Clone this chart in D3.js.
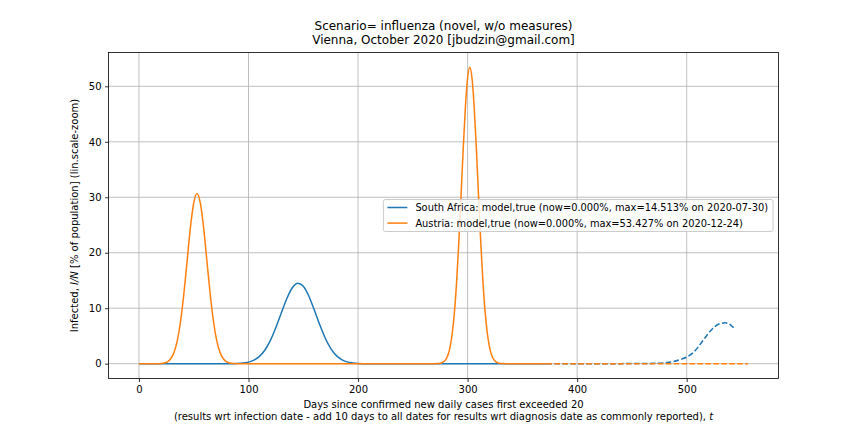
<!DOCTYPE html>
<html>
<head>
<meta charset="utf-8">
<script src="https://cdn.jsdelivr.net/npm/d3@7"></script>
<style>
  body { margin: 0; background: #fff; }
  text { font-family: "DejaVu Sans", sans-serif; fill: #000; }
</style>
</head>
<body>
<svg id="chart" width="864" height="432"></svg>
<script>
// South Africa, model (solid) and projection (dashed)
var saModelDays   = [0, 40, 60, 70, 80, 90, 95, 100, 105, 110, 115, 120, 125, 130, 135, 140, 145, 150, 155, 160, 165, 170, 175, 180, 185, 190, 195, 200, 210, 220, 372];
var saModelValues = [0, 0, 0, 0, 0.004, 0.04, 0.11, 0.28, 0.64, 1.31, 2.47, 4.20, 6.51, 9.17, 11.76, 13.69, 14.513, 13.95, 12.21, 9.71, 7.03, 4.62, 2.76, 1.50, 0.74, 0.33, 0.14, 0.05, 0.01, 0, 0];
var saProjDays    = [372, 400, 440, 460, 470, 476, 482, 488, 494, 500, 506, 512, 518, 524, 530, 535, 540, 544];
var saProjValues  = [0, 0, 0.01, 0.03, 0.06, 0.1, 0.2, 0.4, 0.75, 1.2, 2.0, 3.4, 5.0, 6.4, 7.2, 7.36, 7.0, 6.2];

// Austria, model (solid) and projection (dashed)
var atModelDays   = [0, 10, 15, 20, 23, 26, 29, 32, 35, 38, 41, 44, 47, 50, 53, 56, 59, 62, 65, 68, 71, 74, 77, 80, 83, 86, 90, 100, 260,
                     270, 272, 274, 276, 278, 280, 282, 284, 286, 288, 290, 292, 294, 296, 298, 300, 302, 304, 306, 308, 310, 312, 314, 316, 318, 320, 322, 324, 326, 328, 330, 332, 334, 340, 372];
var atModelValues = [0, 0, 0.004, 0.04, 0.12, 0.34, 0.88, 2.02, 4.15, 7.65, 12.6, 18.6, 24.6, 29.0, 30.7, 29.0, 24.6, 18.6, 12.6, 7.65, 4.15, 2.02, 0.88, 0.34, 0.12, 0.04, 0.01, 0, 0,
                     0.01, 0.02, 0.05, 0.13, 0.32, 0.72, 1.53, 3.0, 5.49, 9.35, 14.8, 21.9, 30.2, 38.8, 46.3, 51.5, 53.427, 51.5, 46.3, 38.8, 30.2, 21.9, 14.8, 9.35, 5.49, 3.0, 1.53, 0.72, 0.32, 0.13, 0.05, 0.02, 0.01, 0, 0];
var atProjDays    = [372, 556];
var atProjValues  = [0, 0];

var xTicks = [0, 100, 200, 300, 400, 500];
var yTicks = [0, 10, 20, 30, 40, 50];

var legendLabels = [
  "South Africa: model,true (now=0.000%, max=14.513% on 2020-07-30)",
  "Austria: model,true (now=0.000%, max=53.427% on 2020-12-24)"
];
var colors = ["#1f77b4", "#ff7f0e"];

var svg = d3.select("#chart"),
    width = 864,
    height = 432,
    margin = {top: 52.5, right: 85.5, bottom: 53.5, left: 108.5},
    plotW = width - margin.left - margin.right,
    plotH = height - margin.top - margin.bottom;

function zipSeries(days, vals) {
  return days.map(function(d, i) { return [d, vals[i]]; });
}

var series = [
  {pts: zipSeries(saModelDays, saModelValues), color: colors[0], dash: null},
  {pts: zipSeries(atModelDays, atModelValues), color: colors[1], dash: null},
  {pts: zipSeries(saProjDays, saProjValues), color: colors[0], dash: "5.55,2.4"},
  {pts: zipSeries(atProjDays, atProjValues), color: colors[1], dash: "5.55,2.4"}
];

var allX = [].concat(saModelDays, saProjDays, atModelDays, atProjDays),
    allY = [].concat(saModelValues, saProjValues, atModelValues, atProjValues),
    xExt = d3.extent(allX),
    yExt = d3.extent(allY),
    xPad = (xExt[1] - xExt[0]) * 0.05,
    yPad = (yExt[1] - yExt[0]) * 0.05;

var x = d3.scaleLinear().domain([xExt[0] - xPad, xExt[1] + xPad]).range([0, plotW]);
var y = d3.scaleLinear().domain([yExt[0] - yPad, yExt[1] + yPad]).range([plotH, 0]);

var g = svg.append("g").attr("transform", "translate(" + margin.left + "," + margin.top + ")");

// grid
g.append("g").selectAll("line").data(xTicks).enter().append("line")
    .attr("x1", function(d) { return x(d); }).attr("x2", function(d) { return x(d); })
    .attr("y1", 0).attr("y2", plotH)
    .attr("stroke", "#b0b0b0").attr("stroke-width", 0.8);
g.append("g").selectAll("line").data(yTicks).enter().append("line")
    .attr("y1", function(d) { return y(d); }).attr("y2", function(d) { return y(d); })
    .attr("x1", 0).attr("x2", plotW)
    .attr("stroke", "#b0b0b0").attr("stroke-width", 0.8);

var line = d3.line()
    .x(function(d) { return x(d[0]); })
    .y(function(d) { return y(d[1]); })
    .curve(d3.curveMonotoneX);

g.append("g").selectAll("path").data(series).enter().append("path")
    .attr("d", function(d) { return line(d.pts); })
    .attr("fill", "none")
    .attr("stroke", function(d) { return d.color; })
    .attr("stroke-width", 1.5)
    .attr("stroke-dasharray", function(d) { return d.dash; });

// axes
var xAxis = g.append("g").attr("transform", "translate(0," + plotH + ")")
    .call(d3.axisBottom(x).tickValues(xTicks).tickSize(3.5).tickPadding(3.5).tickFormat(d3.format("d")));
var yAxis = g.append("g")
    .call(d3.axisLeft(y).tickValues(yTicks).tickSize(3.5).tickPadding(3.5).tickFormat(d3.format("d")));
[xAxis, yAxis].forEach(function(a) {
  a.select(".domain").remove();
  a.selectAll(".tick line").attr("stroke", "#000").attr("stroke-width", 0.8);
  a.selectAll(".tick text").attr("font-size", 10).attr("font-family", "DejaVu Sans");
});

g.append("rect")
    .attr("width", plotW).attr("height", plotH)
    .attr("fill", "none").attr("stroke", "#000").attr("stroke-width", 0.8);

// titles
var cx = margin.left + plotW / 2;
svg.append("text").attr("x", cx).attr("y", 29.5).attr("text-anchor", "middle").attr("font-size", 12)
    .text("Scenario= influenza (novel, w/o measures)");
svg.append("text").attr("x", cx).attr("y", 44).attr("text-anchor", "middle").attr("font-size", 12)
    .text("Vienna, October 2020 [jbudzin@gmail.com]");

svg.append("text").attr("x", cx).attr("y", 407.5).attr("text-anchor", "middle").attr("font-size", 10)
    .text("Days since confirmed new daily cases first exceeded 20");
var xl2 = svg.append("text").attr("x", cx).attr("y", 419.5).attr("text-anchor", "middle").attr("font-size", 10);
xl2.append("tspan").text("(results wrt infection date - add 10 days to all dates for results wrt diagnosis date as commonly reported), ");
xl2.append("tspan").attr("font-style", "italic").text("t");

var yl = svg.append("text")
    .attr("transform", "translate(77.5," + (margin.top + plotH / 2) + ") rotate(-90)")
    .attr("text-anchor", "middle").attr("font-size", 10);
yl.append("tspan").text("Infected, ");
yl.append("tspan").attr("font-style", "italic").text("I/N");
yl.append("tspan").text(" [% of population] (lin.scale-zoom)");

// legend, centre right
var legend = g.append("g");
var legBox = legend.append("rect");
var items = legend.selectAll("g.item").data(legendLabels).enter().append("g").attr("class", "item");
items.append("text").attr("font-size", 9.85).attr("x", 32).attr("y", function(d, i) { return 11.8 + i * 15.6; })
    .text(function(d) { return d; });
var textW = d3.max(items.selectAll("text").nodes(), function(n) { return n.getComputedTextLength(); });
items.append("line")
    .attr("x1", 4).attr("x2", 24)
    .attr("y1", function(d, i) { return 8 + i * 15.6; }).attr("y2", function(d, i) { return 8 + i * 15.6; })
    .attr("stroke", function(d, i) { return colors[i]; }).attr("stroke-width", 1.5);
var legW = 32 + textW + 5, legH = 32;
legBox.attr("width", legW).attr("height", legH).attr("rx", 2)
    .attr("fill", "#fff").attr("fill-opacity", 0.8).attr("stroke", "#cccccc").attr("stroke-width", 1);
legend.attr("transform", "translate(" + (plotW - 5.5 - legW) + "," + (plotH / 2 - legH / 2) + ")");
</script>
</body>
</html>
